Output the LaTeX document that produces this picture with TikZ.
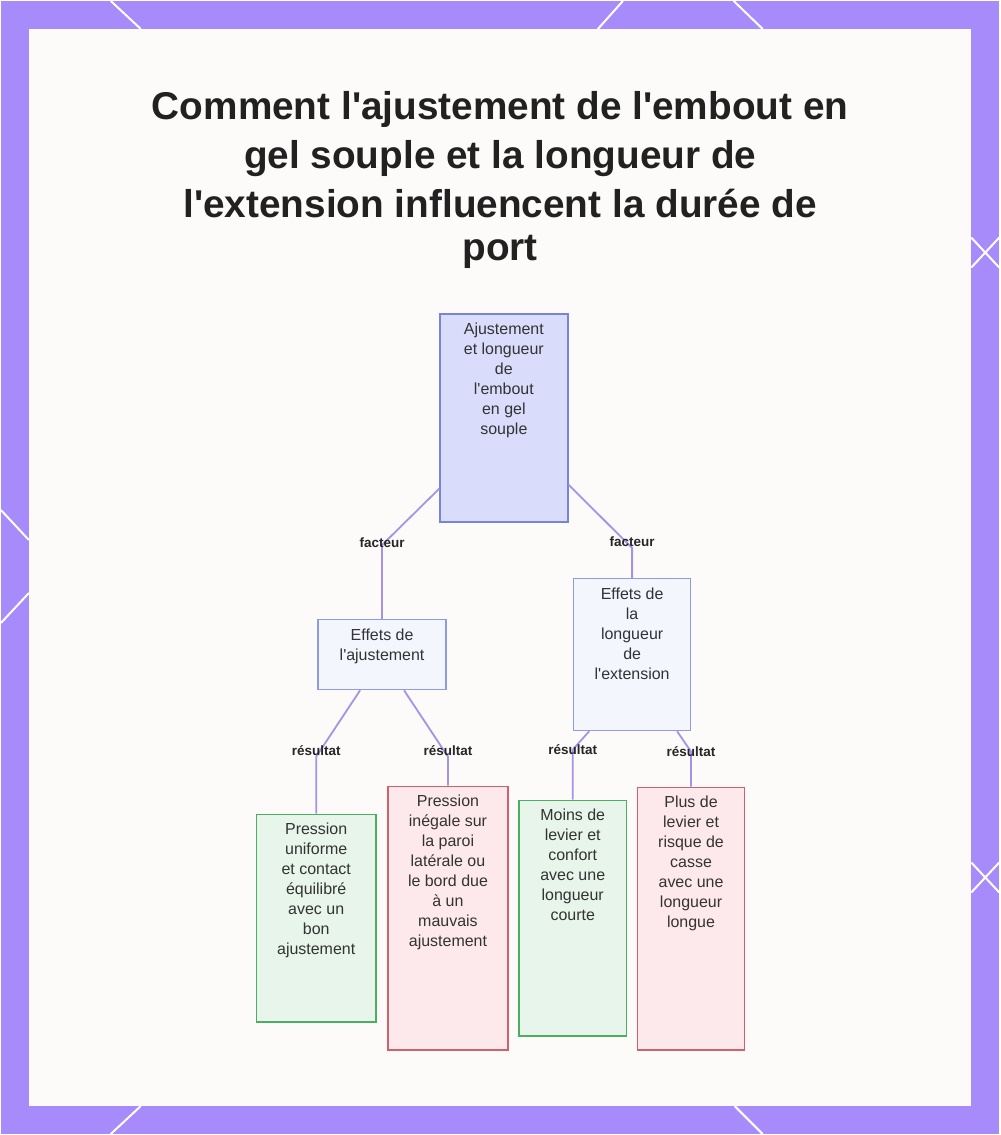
\documentclass[tikz,border=0pt]{standalone}
\usepackage{fontspec}
\setmainfont{Liberation Sans}
\usepackage{xcolor}
\usetikzlibrary{positioning}

\definecolor{frame}{HTML}{A78BFA}
\definecolor{panel}{HTML}{FCFBF9}
\definecolor{rootfill}{HTML}{D9DDFB}
\definecolor{rootdraw}{HTML}{7684D9}
\definecolor{efffill}{HTML}{F4F6FE}
\definecolor{effdraw}{HTML}{8C9DE6}
\definecolor{goodfill}{HTML}{E7F5EA}
\definecolor{gooddraw}{HTML}{4CAF60}
\definecolor{badfill}{HTML}{FDE9EC}
\definecolor{baddraw}{HTML}{D0606C}
\definecolor{linkcol}{HTML}{A593E6}
\definecolor{txt}{HTML}{333333}

% straight apostrophe
\newcommand{\ap}{\textquotesingle}
% box text: fixed size, lines start at the top
\newcommand{\boxtext}[3]{\parbox[c][#2pt][t]{#1pt}{\centering\fontsize{16}{20}\selectfont\color{txt}\vspace*{9pt}#3}}

\begin{document}
\begin{tikzpicture}[
  x=1pt, y=-1pt,
  box/.style={draw, line width=1.5pt, inner sep=0pt, anchor=north west},
  rootbox/.style={box, fill=rootfill, draw=rootdraw},
  effbox/.style={box, fill=efffill, draw=effdraw},
  goodbox/.style={box, fill=goodfill, draw=gooddraw},
  badbox/.style={box, fill=badfill, draw=baddraw},
  link/.style={draw=linkcol, line width=1.8pt},
  lbl/.style={font=\fontsize{13.5}{15}\selectfont\bfseries, text=black!85},
  deco/.style={white, line width=2pt}
]
% frame and panel
\fill[frame] (0,0) rectangle (1000,1135);
\draw[deco] (110,0) -- (140,28);
\draw[deco] (623,0) -- (598,28);
\draw[deco] (734,0) -- (763,28);
\draw[deco] (0,510) -- (28,540);
\draw[deco] (28,593) -- (0,623);
\draw[deco] (972,237) -- (1000,267) (972,267) -- (1000,237);
\draw[deco] (972,863) -- (1000,893) (972,893) -- (1000,863);
\draw[deco] (140,1107) -- (110,1135);
\draw[deco] (735,1107) -- (763,1135);
\fill[panel] (28,28) rectangle (972,1107);

% title
\node[font=\fontsize{38.8}{49}\selectfont\bfseries, text=black!87, align=center, anchor=north] (title) at (500,87)
  {Comment l\ap ajustement de l\ap embout en\\gel souple et la longueur de\\l\ap extension influencent la durée de\\[-6pt]port};

% nodes
\node[rootbox] (root) at (439,313) {\boxtext{128}{208}{Ajustement\\et longueur\\de\\l\ap embout\\en gel\\souple}};
\node[effbox] (fit) at (317,619) {\boxtext{128}{70}{Effets de\\l\ap ajustement}};
\node[effbox] (len) at (573,578) {\boxtext{117}{152}{Effets de\\la\\longueur\\de\\l\ap extension}};
\node[goodbox] (fitgood) at (255,814) {\boxtext{120}{208}{Pression\\uniforme\\et contact\\équilibré\\avec un\\bon\\ajustement}};
\node[badbox] (fitbad) at (387,786) {\boxtext{120}{264}{Pression\\inégale sur\\la paroi\\latérale ou\\le bord due\\à un\\mauvais\\ajustement}};
\node[goodbox] (lenshort) at (518,800) {\boxtext{108}{236}{Moins de\\levier et\\confort\\avec une\\longueur\\courte}};
\node[badbox] (lenlong) at (637,787) {\boxtext{107}{263}{Plus de\\levier et\\risque de\\casse\\avec une\\longueur\\longue}};

% connectors
\draw[link] ([yshift=34pt]root.south west) -- ([yshift=74pt]fit.north) node[lbl, yshift=2pt] {facteur} -- (fit.north);
\draw[link] ([yshift=38pt]root.south east) -- ([yshift=30pt]len.north) node[lbl, yshift=6pt] {facteur} -- (len.north);
\draw[link] ([xshift=-22pt]fit.south) -- ([yshift=57pt]fitgood.north) node[lbl, yshift=6pt] {résultat} -- (fitgood.north);
\draw[link] ([xshift=22pt]fit.south) -- ([yshift=29pt]fitbad.north) node[lbl, yshift=6pt] {résultat} -- (fitbad.north);
\draw[link] ([xshift=-43pt]len.south) -- ([yshift=50pt]lenshort.north) node[lbl] {résultat} -- (lenshort.north);
\draw[link] ([xshift=45pt]len.south) -- ([yshift=35pt]lenlong.north) node[lbl] {résultat} -- (lenlong.north);
\end{tikzpicture}
\end{document}
